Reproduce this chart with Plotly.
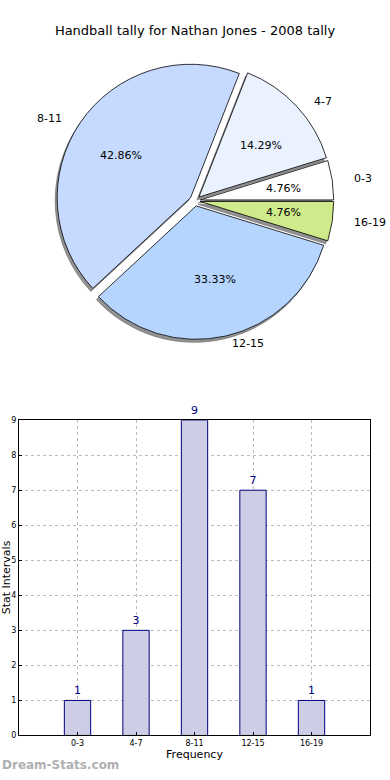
import math
import plotly.graph_objects as go

categories = ["0-3", "4-7", "8-11", "12-15", "16-19"]
counts = [1, 3, 9, 7, 1]
pie_colors = ["#FFFFFF", "#EAF1FF", "#C6D9FF", "#B5D5FF", "#CFEA8A"]
title_text = "Handball tally for Nathan Jones - 2008 tally"
x_title = "Frequency"
y_title = "Stat Intervals"
watermark = "Dream-Stats.com"

W, H = 390, 780
FONT = "DejaVu Sans, Verdana, sans-serif"

# pie geometry in pixels
cx, cy, r = 195, 199, 135
pull = [0.04] * len(categories)
half = r * (1 + max(pull))
total = sum(counts)
# plotly's counterclockwise start: make the first slice begin at 3 o'clock
rotation = 90 - 360 * counts[0] / total


def dom(cx_, cy_):
    return dict(x=[(cx_ - half) / W, (cx_ + half) / W],
                y=[1 - (cy_ + half) / H, 1 - (cy_ - half) / H])


fig = go.Figure()

# shadow
fig.add_trace(go.Pie(
    labels=categories, values=counts, sort=False, direction="counterclockwise",
    rotation=rotation, pull=pull, domain=dom(cx - 2, cy + 3),
    marker=dict(colors=["rgba(100,100,100,0.7)"] * 5,
                line=dict(color="rgba(100,100,100,0.7)", width=0.8)),
    textinfo="none", hoverinfo="skip", showlegend=False,
))

# main pie
fig.add_trace(go.Pie(
    labels=categories, values=counts, sort=False, direction="counterclockwise",
    rotation=rotation, pull=pull, domain=dom(cx, cy),
    marker=dict(colors=pie_colors, line=dict(color="#000000", width=0.8)),
    textinfo="none", showlegend=False,
))

# labels (outside) and percentages (inside), placed from the data angles
cum = 0
for cat, v in zip(categories, counts):
    mid = (cum + v / 2) / total * 2 * math.pi
    cum += v
    c, s = math.cos(mid), math.sin(mid)
    # category label outside
    fig.add_annotation(x=(cx + 159 * c) / W, y=1 - (cy - 148 * s) / H,
                       xref="paper", yref="paper", text=cat, showarrow=False,
                       xanchor="left" if c > 0.1 else ("right" if c < -0.1 else "center"),
                       yanchor="middle",
                       font=dict(family=FONT, size=11, color="#000000"))
    # percentage inside
    pct = "%.2f%%" % (100.0 * v / total)
    fig.add_annotation(x=(cx + 0.6 * 150 * c) / W, y=1 - (cy - 0.6 * 136 * s) / H,
                       xref="paper", yref="paper", text=pct, showarrow=False,
                       xanchor="center", yanchor="middle",
                       font=dict(family=FONT, size=11, color="#000000"))

# bar chart
fig.add_trace(go.Bar(
    x=categories, y=counts, width=0.45,
    marker=dict(color="#CDCDE6", line=dict(color="#000080", width=1)),
    text=counts, textposition="outside", cliponaxis=False,
    constraintext="none",
    textfont=dict(family=FONT, size=11, color="#000080"),
    showlegend=False, xaxis="x", yaxis="y",
))

fig.update_layout(
    width=W, height=H,
    margin=dict(l=0, r=0, t=0, b=0),
    paper_bgcolor="#FFFFFF", plot_bgcolor="#FFFFFF",
    font=dict(family=FONT, color="#000000"),
    title=dict(text=title_text, x=0.5, xanchor="center", y=1 - 30 / H,
               yanchor="middle", font=dict(family=FONT, size=13, color="#000000")),
    xaxis=dict(domain=[19 / W, 370 / W], anchor="y", range=[-1, 5],
               showline=True, linecolor="#000000", linewidth=1, mirror=True,
               ticks="inside", ticklen=3, tickcolor="#000000",
               showgrid=True, gridcolor="#BBBBBB", griddash="dot", gridwidth=1,
               tickfont=dict(family=FONT, size=8, color="#000000"),
               title=dict(text=x_title, standoff=3,
                          font=dict(family=FONT, size=11, color="#000000")),
               fixedrange=True),
    yaxis=dict(domain=[1 - 740 / H, 1 - 421 / H], anchor="x", range=[0, 9],
               tickmode="linear", dtick=1,
               showline=True, linecolor="#000000", linewidth=1, mirror=True,
               ticks="inside", ticklen=3, tickcolor="#000000",
               showgrid=True, gridcolor="#BBBBBB", griddash="dot", gridwidth=1,
               zeroline=False,
               tickfont=dict(family=FONT, size=8, color="#000000"),
               fixedrange=True),
)

# y-axis title
fig.add_annotation(x=6 / W, y=1 - 580 / H, xref="paper", yref="paper",
                   text=y_title, textangle=-90, showarrow=False,
                   xanchor="center", yanchor="middle",
                   font=dict(family=FONT, size=11, color="#000000"))

# watermark
fig.add_annotation(x=0, y=1 - 770 / H, xref="paper", yref="paper",
                   text="<b>" + watermark + "</b>", showarrow=False,
                   xanchor="left", yanchor="middle",
                   font=dict(family=FONT, size=12, color="#B0B0B0"))

fig.write_html("out.html", config={"displayModeBar": False},
               post_script="document.body.style.margin='0';document.body.style.padding='0';")
